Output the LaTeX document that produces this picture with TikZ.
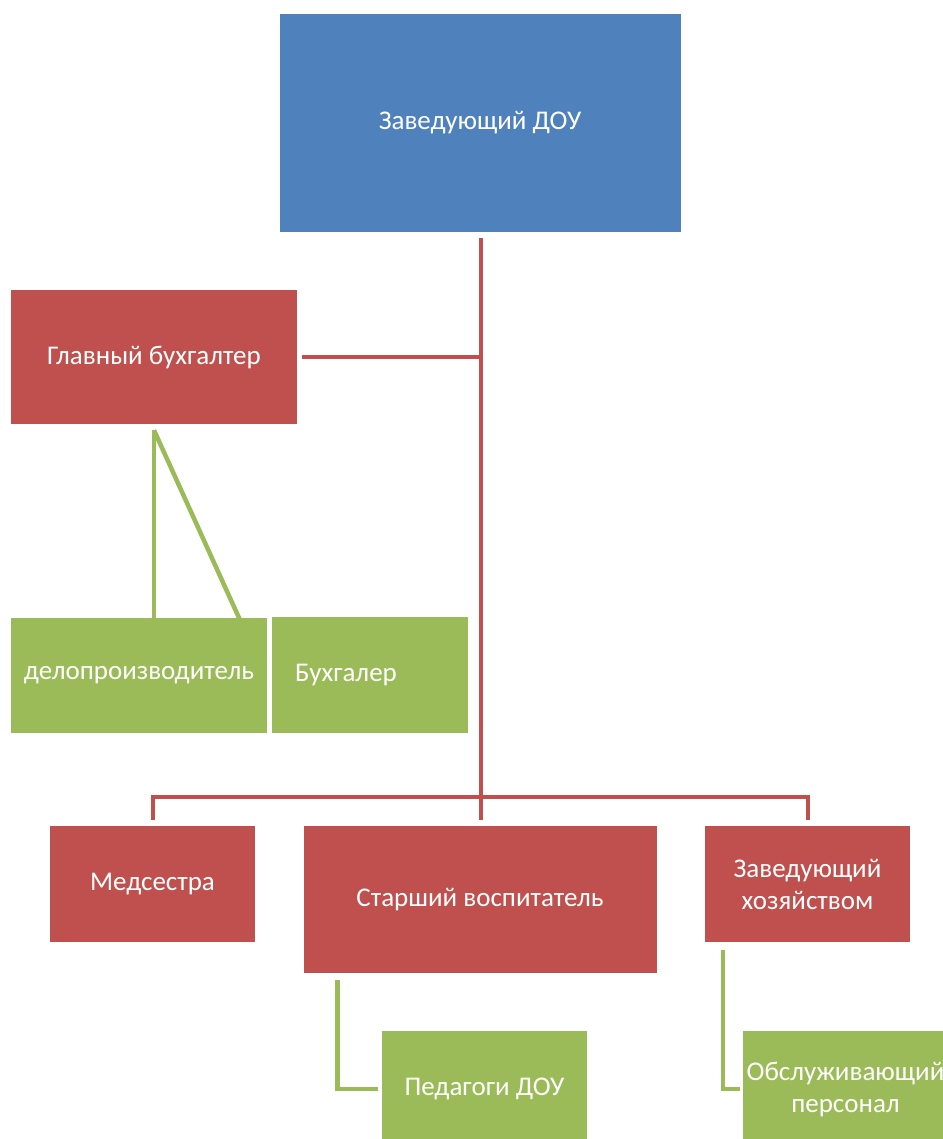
\documentclass[tikz,border=0pt]{standalone}
\usepackage{fontspec}
\setmainfont{Carlito}
\definecolor{cblue}{HTML}{4F81BD}
\definecolor{cred}{HTML}{C0504D}
\definecolor{cgreen}{HTML}{9BBB59}
\begin{document}
\begin{tikzpicture}[x=1pt,y=-1pt,
  box/.style={rectangle, inner sep=0pt, text=white, align=center,
    font=\fontsize{27}{32}\selectfont},
  bluebox/.style={box, fill=cblue},
  redbox/.style={box, fill=cred},
  greenbox/.style={box, fill=cgreen},
  redline/.style={draw=cred, line width=4pt},
  greenline/.style={draw=cgreen, line width=4.5pt}]
\useasboundingbox (0,0) rectangle (942,1139);
\node[bluebox, minimum width=401pt, minimum height=218pt] (top) at (480,123) {Заведующий ДОУ};
\node[redbox, minimum width=286pt, minimum height=134pt] (gb) at (154,357) {Главный бухгалтер};
\node[greenbox, minimum width=256pt, minimum height=115pt] (delo) at (139,675.5) {делопроизводитель};
\node[greenbox, minimum width=196pt, minimum height=116pt, text width=150pt, align=left] (buh) at (370,675) {Бухгалер};
\node[redbox, minimum width=205pt, minimum height=116pt] (med) at (152.5,884) {Медсестра};
\node[redbox, minimum width=353pt, minimum height=147pt] (st) at (480,899.5) {Старший воспитатель};
\node[redbox, minimum width=205pt, minimum height=116pt] (zx) at (807.5,884) {Заведующий\\хозяйством};
\node[greenbox, minimum width=205pt, minimum height=116pt] (ped) at (484.5,1089) {Педагоги ДОУ};
\node[greenbox, minimum width=205pt, minimum height=116pt] (obs) at (845.5,1089) {Обслуживающий\\персонал};
\coordinate (bus) at (481,797);
\draw[redline] ([xshift=1pt,yshift=-6pt]top.south) -- ([xshift=1pt,yshift=6pt]st.north);
\draw[redline] ([xshift=5pt]gb.east) -- (gb.east -| bus);
\draw[redline] ([yshift=6pt]med.north) |- (bus) -| ([yshift=6pt]zx.north);
\draw[greenline] ([yshift=-6pt]gb.south) -- (gb.south |- delo.north) ++(0,-6);
\draw[greenline] ([yshift=-6pt]gb.south) -- ([xshift=-31pt,yshift=-5pt]buh.north west);
\draw[greenline] ([xshift=34pt,yshift=-7pt]st.south west) |- ([xshift=-4pt]ped.west);
\draw[greenline] ([xshift=18pt,yshift=-8pt]zx.south west) |- ([xshift=-3pt]obs.west);
\end{tikzpicture}
\end{document}
